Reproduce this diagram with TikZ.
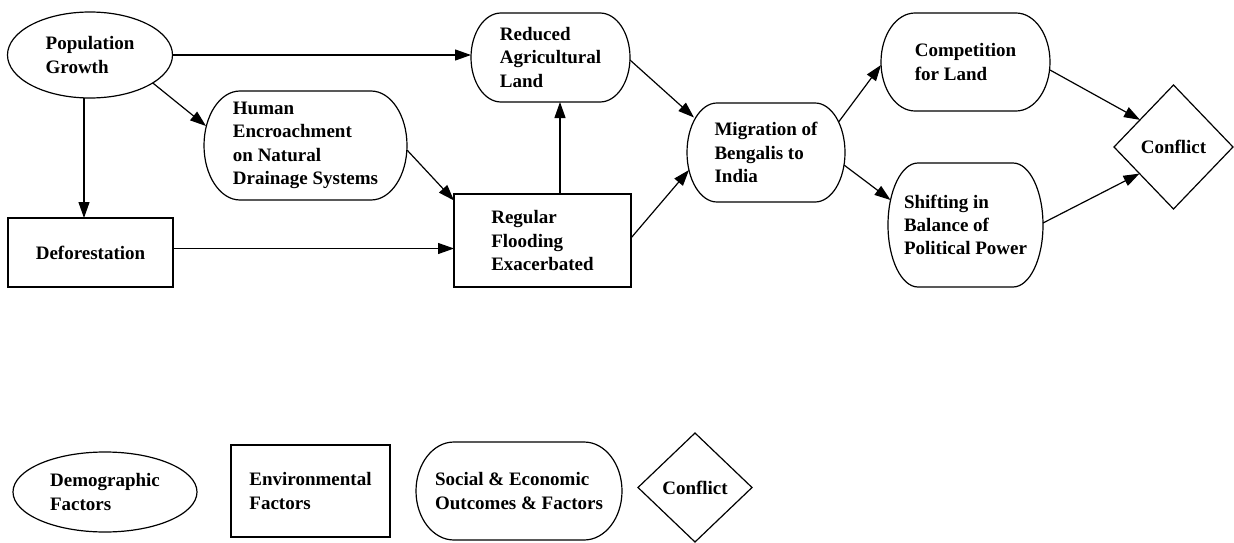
\documentclass[tikz,border=0pt]{standalone}
\usepackage{fontspec}
\setmainfont{Liberation Serif}
\usetikzlibrary{shapes.geometric,arrows.meta,calc}

% outline with half-elliptic ends, drawn round a named node
\newcommand\stadium[2]{%
  \draw let \p1=(#1.north west), \p2=(#1.south east), \n1={(\y1-\y2)/2} in
    (\x1+#2,\y1) -- (\x2-#2,\y1)
    arc[start angle=90, end angle=-90, x radius=#2, y radius=\n1]
    -- (\x1+#2,\y2)
    arc[start angle=270, end angle=90, x radius=#2, y radius=\n1] -- cycle;}

\tikzset{
  lbl/.style={font=\bfseries\fontsize{19}{23.3}\selectfont, align=left,
    inner sep=0pt, outer sep=0pt},
  ell/.style={lbl, ellipse, draw},
  envbox/.style={lbl, rectangle, draw},
  socbox/.style={lbl, rectangle},
  dia/.style={lbl, diamond, draw},
  arr/.style={-{Triangle[length=16pt,width=11pt]}},
}

\begin{document}
\begin{tikzpicture}[x=1pt, y=1pt, line width=1.2pt]
\fill[white] (0,0) rectangle (1234,-543);
\useasboundingbox (0,0) rectangle (1234,-543);

% causal chain
\node[ell, minimum width=165pt, minimum height=86pt] (pop) at (90,-55) {Population\\Growth};
\node[socbox, minimum width=203pt, minimum height=109pt] (hum) at (305.5,-145.5)
  {Human\\Encroachment\\on Natural\\Drainage Systems};
\node[envbox, minimum width=165pt, minimum height=69pt] (def) at (90.5,-252.5) {Deforestation};
\node[socbox, minimum width=159pt, minimum height=89pt] (red) at (550.5,-57.5)
  {Reduced\\Agricultural\\Land};
\node[envbox, minimum width=177pt, minimum height=93pt] (reg) at (542.5,-240.5)
  {Regular\\Flooding\\Exacerbated};
\node[socbox, minimum width=158pt, minimum height=99pt] (mig) at (766,-152.5)
  {Migration of\\Bengalis to\\India};
\node[socbox, minimum width=169pt, minimum height=98pt] (comp) at (965.5,-62)
  {Competition\\for Land};
\node[socbox, minimum width=155pt, minimum height=124pt] (shft) at (965.5,-225)
  {Shifting in\\Balance of\\Political Power};
\node[dia, minimum width=119pt, minimum height=124pt] (con) at (1173.5,-147) {Conflict};

\stadium{hum}{36pt}
\stadium{red}{30pt}
\stadium{mig}{30pt}
\stadium{comp}{34pt}
\stadium{shft}{30pt}

% connectors
\coordinate (c1) at ([shift={(-6,0)}]pop.south);
\draw[arr] (c1) -- (c1 |- def.north);
\draw[arr] (pop.east) -- (pop.east -| red.west);
\draw[arr] (pop.-24) -- ([shift={(-99.5,19.5)}]hum.center);
\draw[arr] ([shift={(0,-4.5)}]hum.east) -- ([shift={(0,40)}]reg.west);
\coordinate (d1) at ([shift={(0,4)}]def.east);
\draw[arr] (d1) -- (d1 -| reg.west);
\coordinate (r1) at ([shift={(17.5,0)}]reg.north);
\draw[arr] (r1) -- (r1 |- red.south);
\draw[arr] ([shift={(0,-2.5)}]red.east) -- ([shift={(-72,35)}]mig.center);
\draw[arr] ([shift={(0,2.5)}]reg.east) -- ([shift={(-77,-17.5)}]mig.center);
\draw[arr] ([shift={(72.6,30.5)}]mig.center) -- ([shift={(0,-3)}]comp.west);
\draw[arr] ([shift={(78,-12.5)}]mig.center) -- ([shift={(-75,25)}]shft.center);
\draw[arr] ([shift={(0,-8)}]comp.east) -- (con.141);
\draw[arr] ([shift={(0,2)}]shft.east) -- (con.218);

% key
\node[ell, minimum width=184pt, minimum height=80pt] (ldem) at (105,-492) {Demographic\\Factors};
\node[envbox, minimum width=159pt, minimum height=92pt] (lenv) at (310.5,-491) {Environmental\\Factors};
\node[socbox, minimum width=206pt, minimum height=98pt] (lsoc) at (519,-491)
  {Social \& Economic\\Outcomes \& Factors};
\node[dia, minimum width=114pt, minimum height=109pt] (lcon) at (695,-487.5) {Conflict};
\stadium{lsoc}{38pt}
\end{tikzpicture}
\end{document}
